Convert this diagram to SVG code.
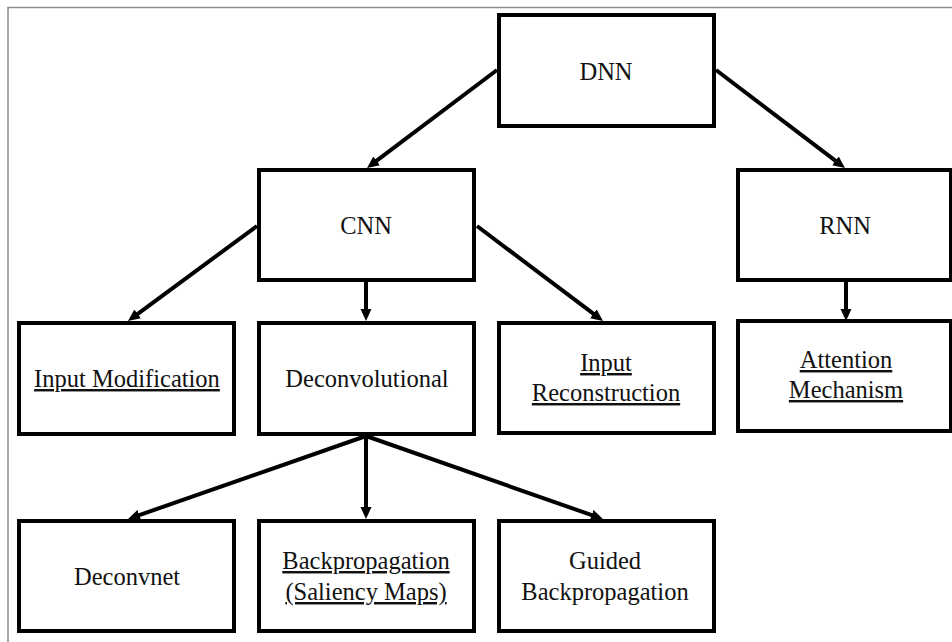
<svg xmlns="http://www.w3.org/2000/svg" width="952" height="642" viewBox="0 0 952 642">
  <style>
    .box { fill: #ffffff; stroke: #000000; stroke-width: 4; }
    .lbl { font-family: 'Liberation Serif', 'Times New Roman', serif; font-size: 24.5px; fill: #111111; text-anchor: middle; }
    .u { text-decoration: underline; }
    .conn { stroke: #000000; stroke-width: 4; fill: none; marker-end: url(#arrow); }
    .frame { stroke: #8c8c8c; stroke-width: 1.5; fill: none; }
  </style>
  <defs>
    <marker id="arrow" markerUnits="userSpaceOnUse" viewBox="0 0 12 12" markerWidth="12" markerHeight="12" refX="4" refY="6" orient="auto">
      <path d="M0,0.5 L12,6 L0,11.5 z" fill="#000000"/>
    </marker>
  </defs>
  <rect x="0" y="0" width="952" height="642" fill="#ffffff"/>
  <path class="frame" d="M8,643 L8,7.5 L953,7.5"/>

  <g id="connectors">
    <line class="conn" x1="497" y1="70" x2="373.4" y2="163.2"/>
    <line class="conn" x1="716" y1="70" x2="838.6" y2="163.2"/>
    <line class="conn" x1="257" y1="226" x2="134.4" y2="316.3"/>
    <line class="conn" x1="366" y1="282" x2="366" y2="313"/>
    <line class="conn" x1="477" y1="226" x2="596.6" y2="316.2"/>
    <line class="conn" x1="846" y1="281" x2="846" y2="313"/>
    <line class="conn" x1="366" y1="436" x2="135.6" y2="516.4"/>
    <line class="conn" x1="366" y1="436" x2="366" y2="511"/>
    <line class="conn" x1="366" y1="436" x2="595.4" y2="516.4"/>
  </g>

  <g id="dnn">
    <rect class="box" x="499" y="15" width="215" height="111"/>
    <text class="lbl" x="606" y="80">DNN</text>
  </g>
  <g id="cnn">
    <rect class="box" x="259" y="170" width="215" height="110"/>
    <text class="lbl" x="366" y="234">CNN</text>
  </g>
  <g id="rnn">
    <rect class="box" x="738" y="170" width="213" height="110"/>
    <text class="lbl" x="845" y="234">RNN</text>
  </g>
  <g id="input-modification">
    <rect class="box" x="19" y="323" width="215" height="111"/>
    <text class="lbl u" x="127" y="387">Input Modification</text>
  </g>
  <g id="deconvolutional">
    <rect class="box" x="259" y="323" width="215" height="111"/>
    <text class="lbl" x="367" y="387">Deconvolutional</text>
  </g>
  <g id="input-reconstruction">
    <rect class="box" x="499" y="323" width="215" height="110"/>
    <text class="lbl u" x="606" y="371">Input</text>
    <text class="lbl u" x="606" y="401">Reconstruction</text>
  </g>
  <g id="attention-mechanism">
    <rect class="box" x="738" y="321" width="213" height="110"/>
    <text class="lbl u" x="846" y="368">Attention</text>
    <text class="lbl u" x="846" y="398">Mechanism</text>
  </g>
  <g id="deconvnet">
    <rect class="box" x="19" y="521" width="215" height="110"/>
    <text class="lbl" x="127" y="585">Deconvnet</text>
  </g>
  <g id="backpropagation">
    <rect class="box" x="259" y="521" width="215" height="110"/>
    <text class="lbl u" x="366" y="569">Backpropagation</text>
    <text class="lbl u" x="366" y="600">(Saliency Maps)</text>
  </g>
  <g id="guided-backpropagation">
    <rect class="box" x="499" y="521" width="215" height="110"/>
    <text class="lbl" x="605" y="569">Guided</text>
    <text class="lbl" x="605" y="600">Backpropagation</text>
  </g>
</svg>
